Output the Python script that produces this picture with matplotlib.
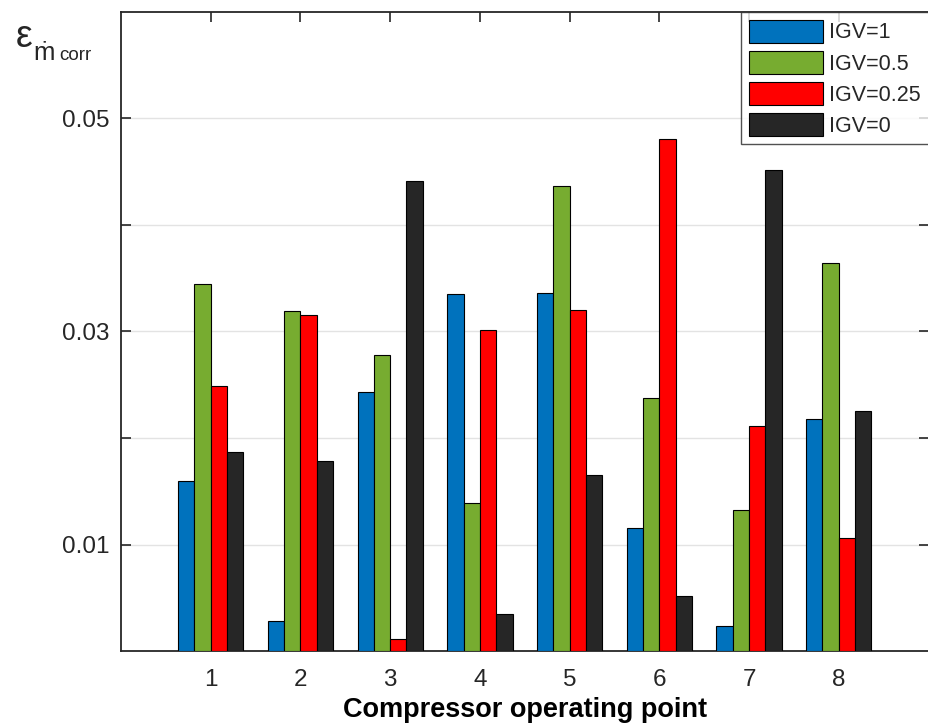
import matplotlib
matplotlib.use("Agg")
import matplotlib.pyplot as plt
import numpy as np

plt.rcParams.update({
    "font.family": ["Liberation Sans", "DejaVu Sans"],
    "text.color": "#262626",
    "axes.edgecolor": "#262626",
    "xtick.color": "#262626",
    "ytick.color": "#262626",
})

# 工况点与各 IGV 开度下的误差
points = [1, 2, 3, 4, 5, 6, 7, 8]
igv_1 = [0.0160, 0.00285, 0.0243, 0.03355, 0.0336, 0.01156, 0.00235, 0.0218]
igv_05 = [0.0345, 0.03195, 0.02775, 0.01394, 0.0437, 0.02375, 0.01325, 0.03644]
igv_025 = [0.0249, 0.03158, 0.0011, 0.0301, 0.03198, 0.04809, 0.02117, 0.01062]
igv_0 = [0.01867, 0.01786, 0.04411, 0.00348, 0.01654, 0.00517, 0.04521, 0.02253]
labels = ["IGV=1", "IGV=0.5", "IGV=0.25", "IGV=0"]
colors = ["#0072BD", "#77AC30", "#FF0000", "#262626"]
yticks = [0.01, 0.02, 0.03, 0.04, 0.05]
ytick_labels = ["0.01", "", "0.03", "", "0.05"]

fig = plt.figure(figsize=(9.29, 7.25), dpi=100)
ax = fig.add_axes([121 / 929, 74 / 725, 807.5 / 929, 639 / 725])

series = [igv_1, igv_05, igv_025, igv_0]
n = len(series)
bw = 0.727 / n
x = np.array(points, dtype=float)
for i, ys in enumerate(series):
    ax.bar(x + (i - (n - 1) / 2) * bw, ys, width=bw, color=colors[i],
           edgecolor="black", linewidth=0.8, label=labels[i], zorder=3)

ax.set_xlim(0, 9)
ax.set_ylim(0, 0.06)
ax.set_xticks(points)
ax.set_yticks(yticks)
ax.set_yticklabels(ytick_labels)
ax.yaxis.grid(True, color="#e3e3e3", linewidth=1.0, zorder=0)
ax.set_axisbelow(True)
ax.tick_params(direction="in", length=7, width=1.2, labelsize=17.5,
               top=True, right=True)
ax.tick_params(axis="x", pad=13)
ax.tick_params(axis="y", pad=8)
for s in ax.spines.values():
    s.set_linewidth(1.3)

ax.set_xlabel("Compressor operating point", fontsize=19.5,
              fontweight="bold", labelpad=4)

# y 轴标签:放在左上角,水平书写
fig.text(16 / 929, 1 - 47 / 725, "ε", fontsize=27, va="baseline",
         ha="left")
fig.text(33 / 929, 1 - 60 / 725, "ṁ", fontsize=18.5, va="baseline",
         ha="left")
fig.text(59 / 929, 1 - 60 / 725, "corr", fontsize=13.5, va="baseline",
         ha="left")

leg = ax.legend(loc="upper right", fontsize=15.5, frameon=True,
                fancybox=False, borderaxespad=0, handlelength=3.45,
                handleheight=1.3, labelspacing=0.33, handletextpad=0.3,
                borderpad=0.35)
leg.get_frame().set_edgecolor("#262626")
leg.get_frame().set_linewidth(1.0)

fig.savefig("out.png", dpi=100)
